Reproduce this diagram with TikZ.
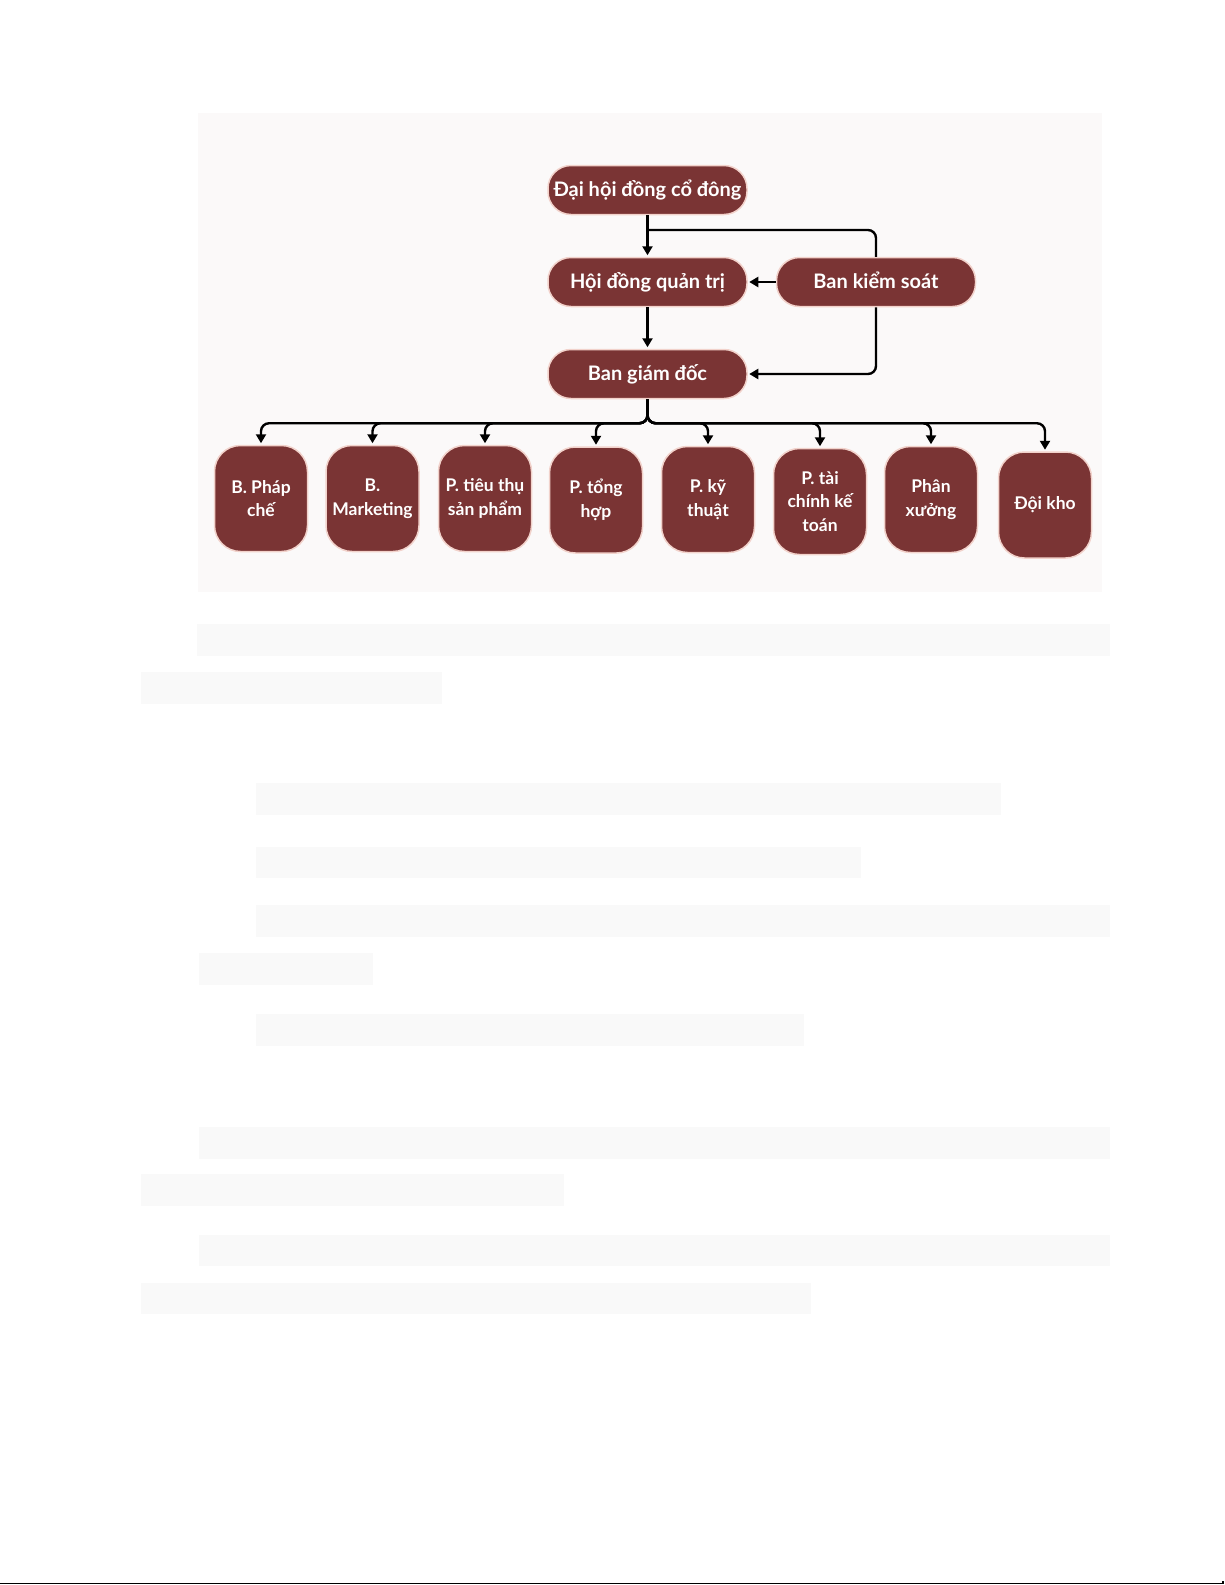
\documentclass[tikz,border=0pt]{standalone}
\usepackage{fontspec}
\setmainfont{Lato}
\usetikzlibrary{arrows.meta}
\definecolor{maroon}{HTML}{7A3434}
\definecolor{boxline}{HTML}{F2D2CB}
\definecolor{panel}{HTML}{FBF9F9}
\definecolor{bar}{HTML}{F9F9F9}
\tikzset{
  pill/.style={draw=boxline, line width=1.5pt, fill=maroon, text=white,
    rounded corners=23pt, minimum width=199pt, minimum height=49pt,
    inner sep=0pt, align=center, text height=17pt, text depth=5pt,
    font=\bfseries\fontsize{20}{24}\selectfont},
  unit/.style={draw=boxline, line width=1.5pt, fill=maroon, text=white,
    rounded corners=26pt, minimum width=93pt, minimum height=106pt,
    inner sep=0pt, align=center, font=\bfseries\fontsize{17.5}{23.5}\selectfont},
  conn/.style={line width=2.4pt, draw=black, rounded corners=8pt},
  arr/.style={conn, -{Triangle[length=9pt,width=10pt]}, shorten >=1.5pt},
  greybar/.style={fill=bar, draw=none}
}
\begin{document}
\begin{tikzpicture}[x=1pt,y=-1pt]
\useasboundingbox (0,0) rectangle (1225,1585);
\fill[white] (0,0) rectangle (1225,1585);
% panel
\fill[panel] (198,113) rectangle (1102,592);
% nodes
\node[pill] (dh)  at (647.5,190) {Đại hội đồng cổ đông};
\node[pill] (hd)  at (647.5,282) {Hội đồng quản trị};
\node[pill] (bks) at (876,282)   {Ban kiểm soát};
\node[pill] (bgd) at (647.5,374) {Ban giám đốc};
\node[unit] (c1) at (261,498.5)  {B. Pháp\\chế};
\node[unit] (c2) at (372.5,498.5) {B.\\Marketing};
\node[unit] (c3) at (485,498.5)  {P. tiêu thụ\\sản phẩm};
\node[unit] (c4) at (596,500)    {P. tổng\\hợp};
\node[unit] (c5) at (708,499.5)  {P. kỹ\\thuật};
\node[unit] (c6) at (820,501.5)  {P. tài\\chính kế\\toán};
\node[unit] (c7) at (931,499.5)  {Phân\\xưởng};
\node[unit] (c8) at (1045,505)   {Đội kho};
% connectors
\coordinate (j1) at (647.5,230);
\draw[arr] (dh.south) -- (hd.north);
\draw[conn] (j1) -| (bks.north);
\draw[arr] (bks.west) -- (hd.east);
\draw[arr] (hd.south) -- (bgd.north);
\draw[arr] (bks.south) |- (bgd.east);
\foreach \c in {c1,c2,c3,c4,c5,c6,c7,c8}{
  \draw[arr] (bgd.south) -- ++(0,24) -| (\c.north);
}
% grey text bars
\fill[greybar] (197,624) rectangle (1110,656);
\fill[greybar] (141,672) rectangle (442,704);
\fill[greybar] (256,783) rectangle (1001,815);
\fill[greybar] (256,847) rectangle (861,878);
\fill[greybar] (256,905) rectangle (1110,937);
\fill[greybar] (199,953) rectangle (373,985);
\fill[greybar] (256,1014) rectangle (804,1046);
\fill[greybar] (199,1127) rectangle (1110,1159);
\fill[greybar] (141,1174) rectangle (564,1206);
\fill[greybar] (199,1235) rectangle (1110,1266);
\fill[greybar] (141,1283) rectangle (811,1314);
% bottom rule
\draw[line width=1.3pt] (0,1583.5) -- (1223,1583.5) -- (1223,1580.5);
\end{tikzpicture}
\end{document}
